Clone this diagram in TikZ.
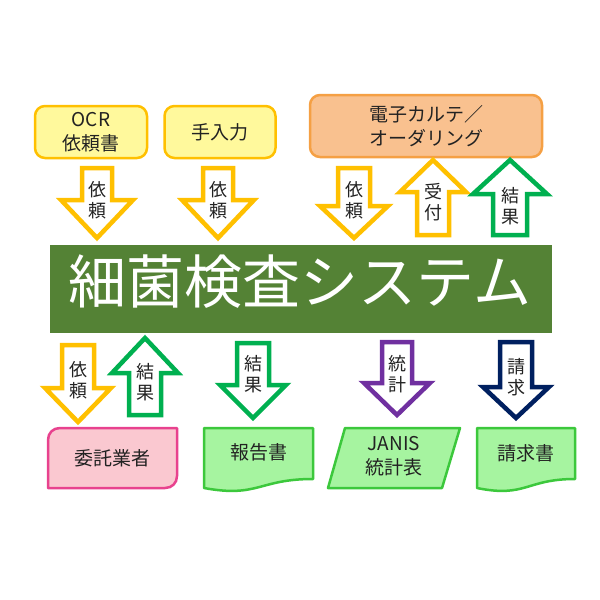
\documentclass[tikz,border=0pt]{standalone}
\usepackage{fontspec}
\setmainfont{Noto Sans CJK JP}
\definecolor{yfill}{HTML}{FFF99C}
\definecolor{ydraw}{HTML}{FFC000}
\definecolor{ofill}{HTML}{F9C18F}
\definecolor{odraw}{HTML}{F5A044}
\definecolor{mgreen}{HTML}{548235}
\definecolor{agreen}{HTML}{00B050}
\definecolor{apurple}{HTML}{7030A0}
\definecolor{anavy}{HTML}{002060}
\definecolor{dfill}{HTML}{A6F4A0}
\definecolor{ddraw}{HTML}{3CC83C}
\definecolor{pfill}{HTML}{FAC8D0}
\definecolor{pdraw}{HTML}{E8428E}
\definecolor{txt}{HTML}{222222}
\tikzset{
  boxtext/.style={text=txt,font=\fontsize{19}{24}\selectfont,align=center,inner sep=0pt},
  ybox/.style={draw=ydraw,fill=yfill,line width=2.5pt,rounded corners=10pt,inner sep=0pt},
  obox/.style={draw=odraw,fill=ofill,line width=2.5pt,rounded corners=10pt,inner sep=0pt},
  blk/.style={draw=#1,fill=white,line width=4.5pt,line join=miter,miter limit=10},
  arrlabel/.style={text=txt,font=\fontsize{18}{20.5}\selectfont,align=center,inner sep=0pt},
  docshape/.style={draw=ddraw,fill=dfill,line width=2.5pt,line join=round},
  pinkshape/.style={draw=pdraw,fill=pfill,line width=2.5pt,line join=round}
}
% name, cx, base, headbase, tip, shaft half, head half, colour
\newcommand\blkarrow[7]{%
  \draw[blk=#7] ({#1-#5},#2) -- ({#1+#5},#2) -- ({#1+#5},#3) -- ({#1+#6},#3)
    -- (#1,#4) -- ({#1-#6},#3) -- ({#1-#5},#3) -- cycle;}
\begin{document}
\begin{tikzpicture}[x=1pt,y=-1pt]
\useasboundingbox[fill=white] (0,0) rectangle (600,600);
% top boxes
\node[ybox,minimum width=112pt,minimum height=52pt] (ocrbox) at (91,132) {};
\node[boxtext] (ocr) at (ocrbox) {OCR\\依頼書};
\node[ybox,minimum width=111pt,minimum height=52pt] (manbox) at (220,132) {};
\node[boxtext] (man) at (manbox) {手入力};
\node[obox,minimum width=232pt,minimum height=62pt] (ekbox) at (426,126) {};
\node[boxtext] (ek) at (ekbox) {電子カルテ／\\オーダリング};
% main system
\node[fill=mgreen,minimum width=502pt,minimum height=88pt,inner sep=0pt] (sys) at (301,289) {};
\node[text=white,font=\fontsize{58}{60}\selectfont,inner sep=0pt] (systxt) at (300,282) {細菌検査システム};
% top arrows
\blkarrow{97}{168}{200}{238}{15}{36}{ydraw}
\node[arrlabel] (a1) at (97,200) {依\\頼};
\blkarrow{218}{168}{200}{238}{15}{36}{ydraw}
\node[arrlabel] (a2) at (218,200) {依\\頼};
\blkarrow{354}{168}{206}{238}{16}{34}{ydraw}
\node[arrlabel] (a3) at (354,200) {依\\頼};
\blkarrow{433}{235}{192}{160}{16}{33}{ydraw}
\node[arrlabel] (a4) at (433,202) {受\\付};
\blkarrow{510}{235}{194}{160}{17}{37}{agreen}
\node[arrlabel] (a5) at (510,206) {結\\果};
% bottom arrows
\blkarrow{78}{345}{388}{422}{16}{33}{ydraw}
\node[arrlabel] (b1) at (78,380) {依\\頼};
\blkarrow{145}{415}{373}{338}{16}{33}{agreen}
\node[arrlabel] (b2) at (145,382) {結\\果};
\blkarrow{253}{343}{385}{418}{16}{33}{agreen}
\node[arrlabel] (b3) at (253,374) {結\\果};
\blkarrow{397}{342}{383}{415}{15}{33}{apurple}
\node[arrlabel] (b4) at (397,374) {統\\計};
\blkarrow{516}{342}{387}{418}{16}{33}{anavy}
\node[arrlabel] (b5) at (516,377) {請\\求};
% bottom boxes
\draw[pinkshape] (60,428) -- (177,428) -- (177,476) .. controls (177,483) and (172,488) .. (165,488)
  -- (48,488) -- (48,440) .. controls (48,433) and (53,428) .. (60,428) -- cycle;
\node[boxtext] (itaku) at (112.5,458) {委託業者};
\draw[docshape] (204,428) -- (313,428) -- (313,479) .. controls (258.5,479) and (258.5,498) .. (204,488) -- cycle;
\node[boxtext] (hokoku) at (258.5,452) {報告書};
\draw[docshape] (345,428) -- (460,428) -- (442,488) -- (328,488) -- cycle;
\node[boxtext] (janis) at (394,456) {JANIS\\統計表};
\draw[docshape] (477,428) -- (575,428) -- (575,479) .. controls (526,479) and (526,498) .. (477,488) -- cycle;
\node[boxtext] (seikyu) at (526,453) {請求書};
\end{tikzpicture}
\end{document}
